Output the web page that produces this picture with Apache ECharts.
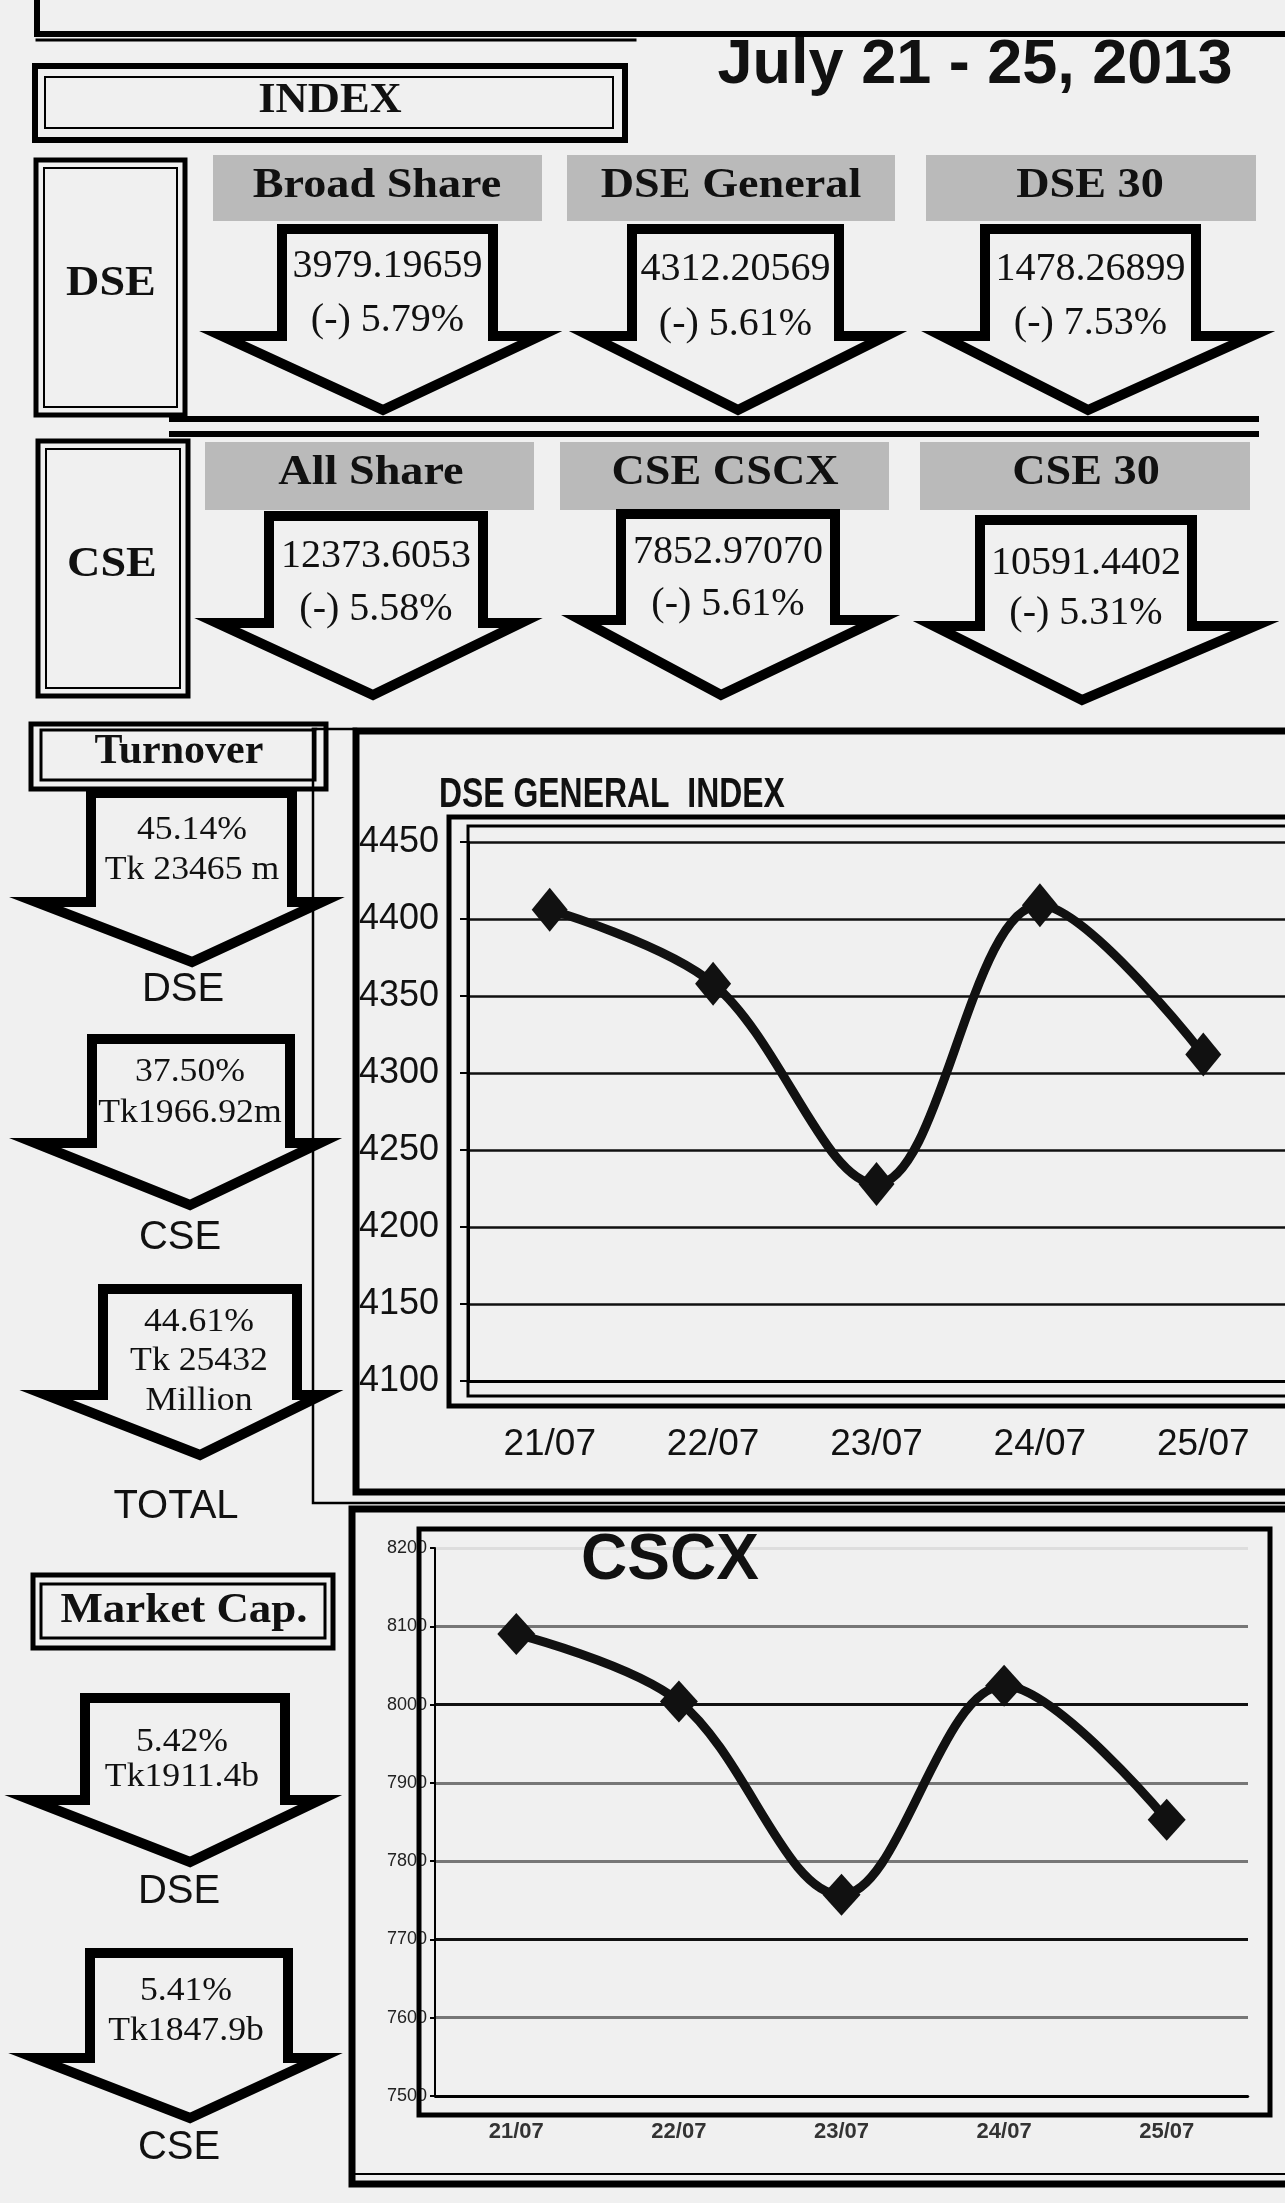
<!DOCTYPE html>
<html>
<head>
<meta charset="utf-8">
<title>July 21 - 25, 2013</title>
<script src="https://cdn.jsdelivr.net/npm/echarts@6/dist/echarts.min.js"></script>
<style>
  html, body { margin: 0; padding: 0; background: #f0f0f0; }
  #chart { width: 1285px; height: 2203px; }
</style>
</head>
<body>
<div id="chart"></div>
<script>
// chart data
var categories = ['21/07', '22/07', '23/07', '24/07', '25/07'];
var dseGeneral = [4406, 4358, 4228, 4409, 4312];
var cscx = [8090, 8004, 7757, 8024, 7853];

// index panels
var dseNames = ['Broad Share', 'DSE General', 'DSE 30'];
var dseIndexValues = ['3979.19659', '4312.20569', '1478.26899'];
var dseIndexChanges = ['(-) 5.79%', '(-) 5.61%', '(-) 7.53%'];
var cseNames = ['All Share', 'CSE CSCX', 'CSE 30'];
var cseIndexValues = ['12373.6053', '7852.97070', '10591.4402'];
var cseIndexChanges = ['(-) 5.58%', '(-) 5.61%', '(-) 5.31%'];

// turnover / market cap
var turnoverLines = [['45.14%', 'Tk 23465 m'], ['37.50%', 'Tk1966.92m'], ['44.61%', 'Tk 25432', 'Million']];
var turnoverNames = ['DSE', 'CSE', 'TOTAL'];
var marketCapLines = [['5.42%', 'Tk1911.4b'], ['5.41%', 'Tk1847.9b']];
var marketCapNames = ['DSE', 'CSE'];

var BG = '#f0f0f0';
var SERIF = '"Liberation Serif", "Times New Roman", serif';
var SANS = '"Liberation Sans", Arial, sans-serif';

var els = [];

function txt(str, x, y, font, sx, align) {
  els.push({
    type: 'text', x: x, y: y, scaleX: sx || 1, z: 30,
    style: { text: str, font: font, fill: '#111', textAlign: align || 'center', textVerticalAlign: 'middle' }
  });
}
function rect(x, y, w, h, lw, fill, z) {
  els.push({
    type: 'rect', z: z || 15,
    shape: { x: x, y: y, width: w, height: h },
    style: { fill: fill || 'none', stroke: lw ? '#000' : 'none', lineWidth: lw || 0 }
  });
}
function line(pts, lw, z) {
  els.push({
    type: 'polyline', z: z || 15,
    shape: { points: pts },
    style: { stroke: '#000', lineWidth: lw, fill: 'none', lineJoin: 'miter', lineCap: 'square' }
  });
}
// down arrow: shaft left/right, top, shoulder y, head left/right, tip
function arrow(sl, sr, top, hy, hl, hr, tx, ty, lw) {
  els.push({
    type: 'polygon', z: 10,
    shape: { points: [[sl, top], [sr, top], [sr, hy], [hr, hy], [tx, ty], [hl, hy], [sl, hy]] },
    style: { fill: BG, stroke: '#000', lineWidth: lw || 10, lineJoin: 'miter', miterLimit: 10 }
  });
}
function plain(v) { return String(v); }

// ---- top header ----
line([[37, -10], [37, 34], [1300, 34]], 6);
line([[37, 40], [635, 40]], 3);
txt('July 21 - 25, 2013', 975, 66, 'bold 63px ' + SANS);

rect(35, 66, 590, 74, 6);
rect(45, 77, 568, 51, 2);
txt('INDEX', 330, 101, 'bold 42px ' + SERIF, 1.06);

// ---- DSE row ----
rect(36, 160, 149, 255, 5);
rect(44, 168, 133, 239, 2);
txt('DSE', 111, 284, 'bold 42px ' + SERIF, 1.1);

var row1Boxes = [[213, 329], [567, 328], [926, 330]];
var row1Text = [377, 731, 1090];
var row1Arrows = [
  [282, 493, 229, 336, 222, 540, 383, 410],
  [632, 839, 229, 336, 590, 886, 738, 410],
  [985, 1196, 229, 336, 942, 1252, 1088, 410]
];
var row1ValY = [266, 269, 269], row1ChgY = [320, 324, 323];
for (var i = 0; i < 3; i++) {
  rect(row1Boxes[i][0], 155, row1Boxes[i][1], 66, 0, '#bababa', 5);
  txt(dseNames[i], row1Text[i], 186, 'bold 42px ' + SERIF, 1.1);
  arrow.apply(null, row1Arrows[i]);
  txt(dseIndexValues[i], (row1Arrows[i][0] + row1Arrows[i][1]) / 2, row1ValY[i], '40px ' + SERIF);
  txt(dseIndexChanges[i], (row1Arrows[i][0] + row1Arrows[i][1]) / 2, row1ChgY[i], '40px ' + SERIF);
}

line([[172, 419], [1256, 419]], 6);
line([[172, 434], [1256, 434]], 6);

// ---- CSE row ----
rect(38, 441, 150, 255, 5);
rect(46, 449, 134, 239, 2);
txt('CSE', 112, 565, 'bold 42px ' + SERIF, 1.1);

var row2Boxes = [[205, 329], [560, 329], [920, 330]];
var row2Text = [371, 725, 1086];
var row2Arrows = [
  [269, 483, 516, 623, 217, 521, 373, 695],
  [621, 835, 514, 620, 581, 878, 721, 695],
  [980, 1192, 520, 626, 934, 1255, 1082, 700]
];
var row2ValY = [556, 552, 563], row2ChgY = [609, 604, 613];
for (var j = 0; j < 3; j++) {
  rect(row2Boxes[j][0], 442, row2Boxes[j][1], 68, 0, '#bababa', 5);
  txt(cseNames[j], row2Text[j], 473, 'bold 42px ' + SERIF, 1.1);
  arrow.apply(null, row2Arrows[j]);
  txt(cseIndexValues[j], (row2Arrows[j][0] + row2Arrows[j][1]) / 2, row2ValY[j], '40px ' + SERIF);
  txt(cseIndexChanges[j], (row2Arrows[j][0] + row2Arrows[j][1]) / 2, row2ChgY[j], '40px ' + SERIF);
}

// ---- Turnover column ----
rect(31, 724, 295, 65, 5);
rect(41, 730, 274, 50, 3);
txt('Turnover', 179, 752, 'bold 42px ' + SERIF);

var tArrows = [
  [91, 292, 793, 902, 36, 322, 192, 962],
  [92, 290, 1039, 1143, 35, 320, 190, 1205],
  [103, 297, 1289, 1395, 46, 322, 200, 1455]
];
var tTextY = [[830, 870], [1072, 1113], [1322, 1361, 1401]];
var tTextX = [192, 190, 199];
var tNameY = [990, 1238, 1507];
var tNameX = [183, 180, 176];
for (var k = 0; k < 3; k++) {
  arrow.apply(null, tArrows[k]);
  for (var m = 0; m < turnoverLines[k].length; m++) {
    txt(turnoverLines[k][m], tTextX[k], tTextY[k][m], '34px ' + SERIF, 1.05);
  }
  txt(turnoverNames[k], tNameX[k], tNameY[k], '40px ' + SANS);
}

// ---- Market cap column ----
rect(33, 1575, 300, 73, 5);
rect(41, 1584, 284, 54, 3);
txt('Market Cap.', 184, 1611, 'bold 42px ' + SERIF, 1.07);

var mArrows = [
  [85, 285, 1698, 1800, 31, 320, 190, 1862],
  [90, 288, 1953, 2058, 35, 320, 190, 2118]
];
var mTextY = [[1742, 1777], [1991, 2031]];
var mTextX = [182, 186];
var mNameY = [1892, 2148];
for (var n = 0; n < 2; n++) {
  arrow.apply(null, mArrows[n]);
  for (var q = 0; q < marketCapLines[n].length; q++) {
    txt(marketCapLines[n][q], mTextX[n], mTextY[n][q], '34px ' + SERIF, 1.05);
  }
  txt(marketCapNames[n], 179, mNameY[n], '40px ' + SANS);
}

// ---- chart frames ----
line([[316, 729], [313, 729], [313, 1503], [1300, 1503]], 2.5, 16);
line([[313, 729], [356, 729]], 2.5, 16);
line([[1300, 731], [356, 731], [356, 1492], [1300, 1492]], 7, 17);
rect(449, 817, 860, 589, 5);
rect(468, 826, 840, 570, 3);
txt('DSE GENERAL  INDEX', 439, 795, 'bold 42px ' + SANS, 0.76, 'left');

line([[1300, 1509], [352, 1509], [352, 2184], [1300, 2184]], 7, 17);
line([[356, 2174], [1300, 2174]], 2, 16);
rect(419, 1529, 851, 586, 5);
txt('CSCX', 581, 1561, 'bold 64px ' + SANS, 1, 'left');

var chart = echarts.init(document.getElementById('chart'), null, { width: 1285, height: 2203 });
chart.setOption({
  backgroundColor: BG,
  animation: false,
  grid: [
    { left: 468, top: 842, width: 817, height: 539 },
    { left: 435, top: 1548, width: 813, height: 548 }
  ],
  xAxis: [
    {
      type: 'category', gridIndex: 0, data: categories, boundaryGap: true,
      axisLine: { lineStyle: { color: '#000', width: 3 } },
      axisTick: { length: 14, lineStyle: { color: '#000', width: 2 } },
      axisLabel: { fontFamily: 'Liberation Sans', fontSize: 37, color: '#111', margin: 45 },
      splitLine: { show: false }
    },
    {
      type: 'category', gridIndex: 1, data: categories, boundaryGap: true,
      axisLine: { lineStyle: { color: '#000', width: 2.5 } },
      axisTick: { length: 6, lineStyle: { color: '#000', width: 2 } },
      axisLabel: { fontFamily: 'Liberation Sans', fontSize: 22, fontWeight: 'bold', color: '#333', margin: 25 },
      splitLine: { show: false }
    }
  ],
  yAxis: [
    {
      type: 'value', gridIndex: 0, min: 4100, max: 4450, interval: 50,
      axisLine: { show: true, lineStyle: { color: '#000', width: 3 } },
      axisTick: { show: true, length: 8, lineStyle: { color: '#000', width: 2 } },
      axisLabel: { fontFamily: 'Liberation Sans', fontSize: 36, color: '#111', margin: 29, formatter: plain },
      splitLine: { lineStyle: { color: '#111', width: 2.5 } }
    },
    {
      type: 'value', gridIndex: 1, min: 7500, max: 8200, interval: 100,
      axisLine: { show: true, lineStyle: { color: '#000', width: 2 } },
      axisTick: { show: true, length: 5, lineStyle: { color: '#000', width: 2 } },
      axisLabel: { fontFamily: 'Liberation Sans', fontSize: 18, color: '#222', margin: 8, formatter: plain },
      splitLine: { lineStyle: { color: ['#000', '#777', '#111', '#777', '#777', '#111', '#777', '#ddd'], width: 3 } }
    }
  ],
  series: [
    {
      name: 'DSE General', type: 'line', xAxisIndex: 0, yAxisIndex: 0, data: dseGeneral,
      smooth: 0.35, symbol: 'diamond', symbolSize: [36, 44],
      lineStyle: { color: '#111', width: 9 }, itemStyle: { color: '#111' }
    },
    {
      name: 'CSCX', type: 'line', xAxisIndex: 1, yAxisIndex: 1, data: cscx,
      smooth: 0.35, symbol: 'diamond', symbolSize: [38, 42],
      lineStyle: { color: '#111', width: 9 }, itemStyle: { color: '#111' }
    }
  ],
  graphic: { elements: els }
});
</script>
</body>
</html>
